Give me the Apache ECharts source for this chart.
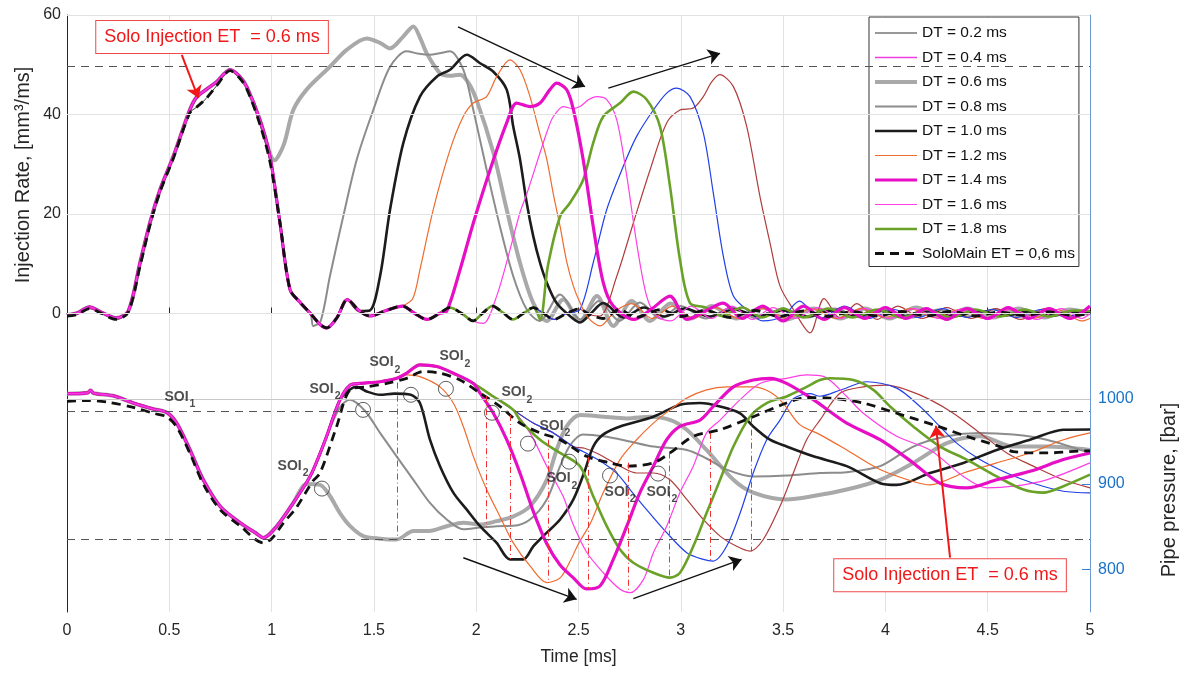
<!DOCTYPE html>
<html><head><meta charset="utf-8">
<script src="https://cdn.jsdelivr.net/npm/echarts@6/dist/echarts.min.js"></script>
<style>html,body{margin:0;padding:0;background:#fff}#c{width:1190px;height:674px}</style>
</head><body><div id="c"></div>
<script>
// ---------------- DATA ----------------
const dtNames = ['DT = 0.2 ms','DT = 0.4 ms','DT = 0.6 ms','DT = 0.8 ms','DT = 1.0 ms','DT = 1.2 ms','DT = 1.4 ms','DT = 1.6 ms','DT = 1.8 ms','DT = 2.0 ms','DT = 2.2 ms'];
const soloName = 'SoloMain ET = 0,6 ms';
const legendNames = ['DT = 0.2 ms','DT = 0.4 ms','DT = 0.6 ms','DT = 0.8 ms','DT = 1.0 ms','DT = 1.2 ms','DT = 1.4 ms','DT = 1.6 ms','DT = 1.8 ms','SoloMain ET = 0,6 ms'];
const xTicks = [0, 5, 0.5];            // min, max, step (ms)
const rateTicks = [0, 20, 40, 60];
const presTicks = [800, 900, 1000];

// injection rate [mm3/ms] - common pilot injection
const pilotRate = [[0,-0.3],[0.05,0.1],[0.11,1.3],[0.17,0.2],[0.24,-0.9],[0.3,0.5],[0.357,10.2],[0.406,18.3],[0.455,24.9],[0.52,31.6],[0.6,40.9],[0.634,43.5],[0.68,45],[0.732,46.6],[0.797,49],[0.84,47.8],[0.878,45.6],[0.943,38.9],[0.992,31.6]];
const soloPilotRate = [[0,-0.5],[0.05,-0.2],[0.11,1.0],[0.17,0],[0.24,-1.2],[0.3,0.3],[0.357,9.5],[0.406,17.8],[0.455,24.5],[0.52,31.2],[0.6,40.3],[0.634,41.5],[0.68,43.2],[0.732,45.8],[0.797,48.8],[0.84,47.5],[0.878,45.2],[0.943,38],[0.992,30.5]];
const pilotFall = [[1.041,18.2],[1.09,4.8],[1.14,2.2],[1.19,0],[1.237,-2.2],[1.27,-2.9],[1.32,-0.8],[1.37,2.8],[1.43,0.5],[1.48,-0.5],[1.56,0.6],[1.64,1.5],[1.7,0],[1.76,-1.2],[1.82,0],[1.87,1.2],[1.93,0],[1.985,-1.5],[2.03,0],[2.08,1.5],[2.13,0.2],[2.18,-1.2],[2.23,0],[2.28,1.2],[2.33,0],[2.38,-1.2],[2.44,0],[2.5,0.9],[2.56,-0.3],[2.62,-1]];
const soloRateTail = [[2.7,0.8],[2.78,-0.8],[2.9,0.8],[3.0,-0.6],[3.12,0.6],[3.24,-0.8],[3.36,0.6],[3.48,-0.6],[3.6,0.5],[3.72,-0.6],[3.84,0.4],[3.96,-0.5],[4.08,0.4],[4.2,-0.5],[4.32,0.4],[4.44,-0.5],[4.56,0.3],[4.68,-0.4],[4.8,0.3],[4.92,-0.4],[5,0]];
const rateCuts = [1.6, 1.6, 0.96, 1.2, 1.45, 1.66, 1.84, 2.0, 2.3, 2.47, 2.6];
const rate02 = [];
const rate04 = [];
const rate06 = [[1.015,30.8],[1.06,34],[1.106,40.9],[1.171,45],[1.285,49.6],[1.367,53],[1.465,55.3],[1.53,54.4],[1.579,53.3],[1.64,55.5],[1.693,57.7],[1.73,55],[1.758,52.3],[1.823,48.3],[1.87,47.8],[1.921,48],[1.96,46.5],[2.002,42.9],[2.084,32.3],[2.149,20.9],[2.214,10.2],[2.279,2.1],[2.345,-1.5],[2.426,2.8],[2.507,-1.5],[2.59,3.5],[2.67,-2.5],[2.76,2.5],[2.85,-1.5],[2.95,2],[3.05,-1],[3.15,1.5],[3.27,-1],[3.4,1.2],[3.52,-1.2],[3.65,1],[3.78,-1],[3.9,1],[4.02,-1],[4.15,1.2],[4.28,-0.8],[4.4,1],[4.53,-0.8],[4.65,1],[4.78,-0.8],[4.9,0.8],[5,0]];
const rate08 = [[1.204,-2.5],[1.24,-1.5],[1.285,7.5],[1.35,19.5],[1.416,30.9],[1.497,40.9],[1.579,49.6],[1.66,52.7],[1.72,52.2],[1.774,52],[1.82,52.3],[1.872,52.7],[1.937,49],[1.986,40.9],[2.051,28.9],[2.116,17.5],[2.181,7.5],[2.247,0.8],[2.31,-1.5],[2.41,3.8],[2.51,-1.2],[2.6,2.5],[2.7,-1.5],[2.8,2.2],[2.9,-1],[3.0,1.5],[3.12,-1],[3.25,1.2],[3.37,-1],[3.5,1],[3.62,-0.8],[3.75,1],[3.88,-0.8],[4.0,0.8],[4.13,-0.8],[4.26,0.8],[4.4,-0.6],[4.53,0.8],[4.66,-0.6],[4.8,0.6],[4.92,-0.5],[5,0]];
const rate10 = [[1.48,0.6],[1.53,7.5],[1.579,20.9],[1.644,34.3],[1.725,43.6],[1.807,47.6],[1.872,49],[1.954,52],[2.019,50.3],[2.084,48.6],[2.149,45],[2.181,37.6],[2.214,31],[2.247,22.2],[2.279,15.5],[2.312,10.2],[2.345,6.2],[2.393,2.1],[2.458,-0.5],[2.508,-1.8],[2.56,0],[2.621,2.1],[2.72,-0.8],[2.82,1.2],[2.92,-0.6],[3.02,1],[3.14,-0.6],[3.26,0.8],[3.38,-0.5],[3.5,0.6],[3.62,-0.6],[3.74,0.6],[3.86,-0.5],[3.98,0.5],[4.1,-0.5],[4.22,0.5],[4.34,-0.5],[4.46,0.5],[4.58,-0.4],[4.7,0.4],[4.82,-0.4],[4.94,0.3],[5,0]];
const rate12 = [[1.69,3],[1.725,8.8],[1.79,20.9],[1.872,32.9],[1.937,39.6],[1.986,42.3],[2.051,43.6],[2.1,47.6],[2.165,51],[2.214,49],[2.26,44],[2.312,36],[2.345,31],[2.377,24],[2.41,17.5],[2.442,10.5],[2.475,5.5],[2.507,2.2],[2.55,-1],[2.605,-2.5],[2.68,0.5],[2.76,2],[2.86,-1],[2.96,1.5],[3.06,-1],[3.17,1.2],[3.28,-1],[3.4,1],[3.52,-1],[3.64,1],[3.76,-1],[3.88,1],[4.0,-0.8],[4.12,1],[4.24,-0.8],[4.36,0.8],[4.48,-1],[4.6,0.8],[4.72,-1],[4.84,0.8],[4.96,-1.5],[5,-1]];
const rate14 = [[1.856,0.5],[1.921,8.8],[1.986,18.2],[2.068,28.9],[2.149,38.3],[2.198,42.3],[2.263,41.6],[2.312,42.3],[2.36,45],[2.393,46.3],[2.442,45],[2.475,41],[2.523,30.9],[2.572,17.5],[2.621,6.2],[2.67,1.5],[2.77,-1.2],[2.86,1],[2.947,3.5],[3.03,-1.2],[3.12,0.5],[3.207,2.1],[3.3,-1],[3.4,1.5],[3.5,-1.5],[3.6,1.5],[3.7,-1.2],[3.8,1.2],[3.9,-1],[4.0,1.2],[4.1,-1],[4.2,1],[4.3,-1.2],[4.4,1],[4.5,-1],[4.6,1.2],[4.7,-1],[4.8,1],[4.9,-1],[5,1.5]];
const rate16 = [[2.035,-2],[2.1,3.5],[2.165,12.8],[2.214,20.3],[2.247,24],[2.312,32.3],[2.35,37],[2.377,39.6],[2.426,41.6],[2.47,41.2],[2.507,41.6],[2.55,43],[2.589,43.6],[2.638,43],[2.687,38.9],[2.736,27.6],[2.784,14.2],[2.833,3.5],[2.882,-0.5],[2.95,-1.5],[3.05,1.5],[3.15,-1],[3.25,1.5],[3.35,-1.2],[3.45,1.2],[3.56,-1],[3.67,1.2],[3.78,-1],[3.9,1],[4.02,-1],[4.14,1],[4.26,-1],[4.38,1],[4.5,-1.2],[4.62,1],[4.74,-1.2],[4.86,1],[4.96,-1],[5,0]];
const rate18 = [[2.312,-1.2],[2.35,9.5],[2.41,19.5],[2.458,22.2],[2.523,26.9],[2.572,34.3],[2.621,39.6],[2.703,42.3],[2.768,44.6],[2.833,43],[2.898,37.6],[2.947,25.6],[2.996,10.8],[3.045,2.1],[3.12,1.2],[3.2,-0.5],[3.3,1.2],[3.4,-0.8],[3.5,1],[3.6,-0.8],[3.72,1],[3.84,-0.8],[3.96,0.8],[4.08,-0.8],[4.2,0.8],[4.32,-0.8],[4.44,0.8],[4.56,-0.6],[4.68,0.8],[4.8,-0.6],[4.92,0.6],[5,0.5]];
const rate20 = [[2.507,0.8],[2.572,10.2],[2.638,20.9],[2.719,29.6],[2.784,35.6],[2.866,40.9],[2.931,44.3],[2.98,45.3],[3.045,43.6],[3.11,36.3],[3.159,24.2],[3.208,11.5],[3.257,3.5],[3.33,0.5],[3.4,-1.5],[3.5,-0.5],[3.58,2.5],[3.68,-1],[3.8,1.5],[3.92,-1],[4.04,0.8],[4.16,-0.8],[4.28,1],[4.4,-0.8],[4.52,0.8],[4.64,-0.8],[4.76,0.8],[4.88,-0.6],[5,0.5]];
const rate22 = [[2.605,-0.5],[2.687,7.5],[2.768,18.2],[2.85,28.9],[2.931,38.3],[2.996,40.9],[3.061,41.3],[3.11,43.6],[3.15,46.5],[3.19,48],[3.257,45.6],[3.322,37.6],[3.387,23.5],[3.436,14.2],[3.485,5.5],[3.55,0.8],[3.632,-3.9],[3.7,3],[3.78,-1],[3.86,2],[3.96,-1.2],[4.06,1.5],[4.18,-1],[4.3,1.2],[4.42,-1],[4.54,1],[4.66,-1.2],[4.78,1],[4.9,-1],[5,0.5]];

// pipe pressure [bar]
const pilotPres = [[0,1006],[0.1,1007],[0.115,1010],[0.13,1006.5],[0.226,1003.5],[0.324,995],[0.422,988],[0.487,984],[0.536,971.5],[0.601,940],[0.666,905],[0.748,874],[0.846,854.6],[0.92,843],[0.96,837],[1.025,850.6],[1.106,878],[1.188,909]];
const envPres = [[1.237,936],[1.269,956],[1.334,998.8],[1.383,1016],[1.432,1018],[1.53,1020],[1.611,1024],[1.66,1030],[1.725,1039.8],[1.807,1037.8],[1.888,1030],[1.986,1018],[2.084,1002.7],[2.181,987],[2.279,971.5],[2.377,960],[2.475,944],[2.56,935]];
const soloPres = [[0,997],[0.1,998],[0.2,996],[0.324,990],[0.422,983],[0.487,979],[0.536,967],[0.601,936],[0.666,900],[0.748,870],[0.846,851],[0.96,831],[1.0,836],[1.06,855],[1.12,872],[1.2,903],[1.237,913],[1.318,967.6],[1.383,1010.5],[1.465,1014],[1.563,1018],[1.66,1024],[1.742,1032],[1.823,1030],[1.921,1022],[2.019,1006.6],[2.116,991],[2.214,971.5],[2.312,960],[2.41,952],[2.54,932.5],[2.65,925],[2.736,921],[2.866,924.8],[2.947,936.5],[3.061,956],[3.192,963.7],[3.354,979],[3.517,995],[3.615,1001.5],[3.729,1000.8],[3.892,995],[4.055,983],[4.234,969.6],[4.397,956],[4.56,944],[4.625,938],[4.788,936.5],[4.984,939],[5,939]];
const presCuts = [1.45, 1.45, 1.12, 1.3, 1.36, 1.64, 2.0, 2.1, 2.2, 2.5, 2.5];
const pres02 = [];
const pres04 = [];
const pres06 = [[1.171,900],[1.237,899],[1.285,886],[1.334,866],[1.383,851],[1.448,839],[1.53,836],[1.611,835],[1.693,845],[1.77,845],[1.856,850.6],[1.937,854.6],[2.019,852.6],[2.1,856.5],[2.181,862],[2.263,874],[2.345,905],[2.393,940],[2.442,967.6],[2.507,981],[2.621,979],[2.736,977],[2.85,979],[2.95,975],[3.029,963.7],[3.126,940],[3.257,905],[3.354,890],[3.517,882],[3.648,886],[3.811,893.6],[3.974,905],[4.136,924.8],[4.3,948],[4.462,956],[4.625,944],[4.788,944],[5,940]];
const pres08 = [[1.334,990],[1.383,999],[1.456,986],[1.53,960],[1.611,932.5],[1.693,905],[1.774,878],[1.856,858.5],[1.937,847],[2.019,849],[2.1,850.6],[2.181,851],[2.263,858.5],[2.345,882],[2.41,921],[2.458,945],[2.52,958],[2.621,956],[2.75,950],[2.866,944],[3.029,940],[3.126,930],[3.224,917],[3.354,909],[3.517,910],[3.68,913],[3.811,914],[3.974,921],[4.136,944],[4.3,956],[4.462,960],[4.625,958],[4.788,952],[5,936.5]];
const pres10 = [[1.383,1011],[1.416,1014],[1.465,1008.6],[1.53,1004.7],[1.6,1006],[1.68,1004.7],[1.725,995],[1.774,952],[1.823,921],[1.888,890],[1.954,870],[2.019,850.6],[2.1,831],[2.165,811.7],[2.23,811.7],[2.279,827],[2.345,843],[2.41,858.5],[2.475,882],[2.53,915],[2.572,944],[2.62,958],[2.703,967.6],[2.866,979],[2.996,993],[3.094,995],[3.192,991],[3.29,983],[3.354,967.6],[3.436,952],[3.517,944],[3.648,932.5],[3.811,921],[3.974,901],[4.055,899],[4.218,913],[4.381,924.8],[4.544,940],[4.707,952],[4.87,963.7],[5,964]];
const pres12 = [[1.66,1028],[1.725,1026],[1.823,1014],[1.888,995],[1.937,967.6],[1.986,932.5],[2.051,893.6],[2.116,862],[2.181,831],[2.263,804],[2.345,784.4],[2.41,790],[2.46,810],[2.5,830],[2.56,855],[2.621,890],[2.703,928.7],[2.784,952],[2.866,971.5],[2.947,987],[3.029,1000.8],[3.126,1010.5],[3.224,1014],[3.354,1014],[3.436,1008],[3.5,995],[3.58,970],[3.68,958],[3.811,940],[3.974,917],[4.136,903],[4.218,899],[4.381,913],[4.544,924.8],[4.707,936.5],[4.87,952],[5,960]];
const pres14 = [[2.019,1006.6],[2.084,983],[2.149,952],[2.214,913],[2.279,868],[2.345,830],[2.41,805],[2.475,790],[2.54,777],[2.605,780.5],[2.67,811.7],[2.736,850.6],[2.8,890],[2.866,921],[2.931,952],[2.996,967.6],[3.094,975],[3.159,991],[3.257,1014],[3.354,1022],[3.436,1024],[3.517,1018],[3.648,999],[3.811,971.5],[3.974,952],[4.136,924.8],[4.267,901],[4.397,895.6],[4.544,905],[4.707,915],[4.87,928.7],[5,936.5]];
const pres16 = [[2.12,998],[2.181,987],[2.263,960],[2.345,921],[2.426,885],[2.47,855],[2.54,820],[2.621,796],[2.703,776.6],[2.752,772.7],[2.817,788],[2.866,819.6],[2.931,850.6],[2.996,890],[3.061,921],[3.126,960],[3.192,975],[3.29,999],[3.387,1018],[3.517,1024],[3.615,1028],[3.7,1026],[3.811,1002.7],[3.892,983],[4.055,956],[4.218,940],[4.381,909],[4.495,895.6],[4.625,897.5],[4.788,905],[5,924.8]];
const pres18 = [[2.214,975],[2.312,952],[2.41,936.5],[2.507,921],[2.572,885.7],[2.638,850.6],[2.703,823.4],[2.768,807.8],[2.866,796],[2.947,790.3],[2.996,796],[3.061,827],[3.126,866],[3.192,905],[3.257,944],[3.338,979],[3.42,995],[3.517,1002.7],[3.615,1014],[3.68,1022],[3.729,1024],[3.843,1022],[3.941,1010.5],[4.023,991],[4.136,967.6],[4.267,944],[4.397,928.7],[4.544,909],[4.674,893.6],[4.772,890],[4.87,897.5],[5,911]];
const pres20 = [[2.54,936],[2.621,924.8],[2.69,912],[2.752,893.6],[2.833,870],[2.931,843],[3.029,819.6],[3.11,811.7],[3.159,809.7],[3.224,827],[3.29,866],[3.354,913],[3.42,952],[3.485,975],[3.55,1000],[3.632,1006],[3.68,1003],[3.778,1010],[3.909,1020],[4.055,1012.5],[4.169,991],[4.25,971.5],[4.348,948],[4.462,928.7],[4.593,913],[4.723,901],[4.87,891.6],[5,889.6]];
const pres22 = [[2.53,942],[2.6,935],[2.703,921],[2.784,913],[2.866,913],[2.947,905],[3.029,882],[3.11,858.5],[3.192,839],[3.273,827],[3.338,821.4],[3.403,835],[3.485,874],[3.55,913],[3.615,952],[3.68,975],[3.778,1006.6],[3.892,1014],[4.006,1016],[4.104,1010.5],[4.218,999],[4.332,983],[4.462,960],[4.593,936.5],[4.723,921],[4.87,905],[5,895.6]];

// annotations (data units)
const soiCircleT = [1.246,1.447,1.681,1.852,2.077,2.253,2.454,2.654,2.889];
const soiCircleP = [894.7,987,1004.7,1011.7,983.6,947.4,926.3,910,912.3];
const soiLabelT = [0.552,1.105,1.261,1.554,1.896,2.199,2.385,2.419,2.703,2.908];
const soiLabelP = [1002.3,921.6,1011.7,1042.7,1049.7,1007.6,968.4,906.4,890.6,890.6];
const soiLabelSub = ['1','2','2','2','2','2','2','2','2','2'];
const dropT = [1.614,2.051,2.165,2.353,2.548,2.743,2.944,3.143,3.346];
const dropTop = [1019,1003,981,952,932,925,937,960,979];
const dropBottom = [835,850,812,784,777,773,790,810,821];
const rateRefLine = 49.6;
const presRefLines = [984.8, 835];
const presGridLine = 1000;
const rateArrows = [[[1.911,57.6],[2.532,45.6]],[[2.646,45.3],[3.192,52.3]]];
const presArrows = [[[1.937,813.6],[2.491,764.9]],[[2.768,765.6],[3.297,811.7]]];
const calloutText = 'Solo Injection ET  = 0.6 ms';
const topCallout = [0.709, 55.6];
const topCalloutArrow = [[0.561,52],[0.642,43.3]];
const bottomCallout = [4.316, 793.2];
const bottomCalloutArrow = [[4.316,813.7],[4.247,968.4]];

// ---------------- STYLES ----------------
const styleList = [
  {color:'#333333', width:1},
  {color:'#f03ce0', width:1.3},
  {color:'#a9a9a9', width:4},
  {color:'#8c8c8c', width:2},
  {color:'#1c1c1c', width:2.6},
  {color:'#ef6a2c', width:1.2},
  {color:'#e60fc6', width:3.2},
  {color:'#ff3ee6', width:1.2},
  {color:'#6aa228', width:2.6},
  {color:'#2040e8', width:1.2},
  {color:'#b03c3c', width:1.2}
];
const drawOrder = [2, 3, 0, 10, 9, 4, 5, 7, 8, 6, 1];
const soloStyle = {color:'#111', width:2.8, type:[9,6]};
const FONT = 'Liberation Sans, Arial, Helvetica, sans-serif';
const TXT = '#262626';
const RED = '#f01818';

// ---------------- BUILD ----------------
const rateCommon = pilotRate.concat(pilotFall);
const soloRateCommon = soloPilotRate.concat(pilotFall);
const presCommon = pilotPres.concat(envPres);
const rateMains = [rate02, rate04, rate06, rate08, rate10, rate12, rate14, rate16, rate18, rate20, rate22];
const presMains = [pres02, pres04, pres06, pres08, pres10, pres12, pres14, pres16, pres18, pres20, pres22];
function branch(common, cut, main) { return common.filter(p => p[0] < cut).concat(main); }
function arrowPair(a, color, width, size) {
  return [{coord:a[0], symbol:'none', lineStyle:{color, width, type:'solid'}, itemStyle:{color}},
          {coord:a[1], symbol:'arrow', symbolSize:size, itemStyle:{color}, lineStyle:{color, width, type:'solid'}}];
}

const series = [];
const dashRef = {color:'#555', type:[8,6], width:1.2};
drawOrder.forEach((i, k) => {
  const name = dtNames[i];
  const st = styleList[i];
  const common = (i === 0) ? soloRateCommon : rateCommon;
  const zz = k === 0 ? 1 : 2;
  const rs = {
    name, type:'line', yAxisIndex:0, smooth:0.3, symbol:'none', silent:true,
    lineStyle:{color:st.color, width:st.width}, itemStyle:{color:st.color},
    data: branch(common, rateCuts[i], rateMains[i]), z:zz
  };
  const ps = {
    name, type:'line', yAxisIndex:1, smooth:0.3, symbol:'none', silent:true,
    lineStyle:{color:st.color, width:st.width}, itemStyle:{color:st.color},
    data: branch(presCommon, presCuts[i], presMains[i]), z:zz
  };
  if (k === 0) {
    rs.markLine = {silent:true, symbol:'none', animation:false, label:{show:false},
      data: rateTicks.map(v => ({yAxis:v, lineStyle:{color:'#e2e2e2', type:'solid', width:1}}))
        .concat([{yAxis:rateRefLine, lineStyle:dashRef}])};
    ps.markLine = {silent:true, symbol:'none', animation:false, label:{show:false},
      data: [{yAxis:presGridLine, lineStyle:{color:'#c8c8c8', type:'solid', width:1}}]
        .concat(presRefLines.map(v => ({yAxis:v, lineStyle:dashRef})))};
  }
  series.push(rs, ps);
});

const calloutLabel = {show:true, position:'inside', formatter:calloutText, color:RED, fontSize:18, fontFamily:FONT,
  backgroundColor:'#fff', borderColor:'#f04848', borderWidth:1, padding:[7,8,7,8]};

// solo main (dashed)
series.push({
  name: soloName, type:'line', yAxisIndex:0, smooth:0.3, symbol:'none', silent:true, z:3,
  lineStyle:soloStyle, itemStyle:{color:soloStyle.color},
  data: soloRateCommon.concat(soloRateTail),
  markLine: {silent:true, animation:false, label:{show:false},
    data: rateArrows.map(a => arrowPair(a, '#111', 1.4, 12)).concat([arrowPair(topCalloutArrow, RED, 2, 12)])},
  markPoint: {silent:true, animation:false, data:[{coord:topCallout, symbol:'rect', symbolSize:1,
    itemStyle:{color:'rgba(0,0,0,0)'}, label:calloutLabel}]}
});
series.push({
  name: soloName, type:'line', yAxisIndex:1, smooth:0.3, symbol:'none', silent:true, z:3,
  lineStyle:soloStyle, itemStyle:{color:soloStyle.color},
  data: soloPres,
  markLine: {silent:true, animation:false, symbol:'none', label:{show:false},
    data: dropT.map((t,i) => [{coord:[t, dropTop[i]], lineStyle:{color:'#f03030', width:1, type:[6,3,1,3]}}, {coord:[t, dropBottom[i]]}])}
});
// SOI circles + bottom arrows + bottom callout
series.push({
  name:'SOI2 circles', type:'scatter', yAxisIndex:1, symbol:'circle', symbolSize:15, silent:true, z:5,
  itemStyle:{color:'rgba(0,0,0,0)', borderColor:'#333', borderWidth:1},
  data: soiCircleT.map((t,i) => [t, soiCircleP[i]]),
  markLine: {silent:true, animation:false, label:{show:false},
    data: presArrows.map(a => arrowPair(a, '#111', 1.4, 12)).concat([arrowPair(bottomCalloutArrow, RED, 2, 12)])},
  markPoint: {silent:true, animation:false, data:[{coord:bottomCallout, symbol:'rect', symbolSize:1,
    itemStyle:{color:'rgba(0,0,0,0)'}, label:calloutLabel}]}
});
// SOI labels
series.push({
  name:'SOI labels', type:'scatter', yAxisIndex:1, symbolSize:0, silent:true, z:6,
  data: soiLabelT.map((t,i) => [t, soiLabelP[i]]),
  label:{show:true, position:'inside', formatter: p => '{a|SOI}{b|' + soiLabelSub[p.dataIndex] + '}',
    rich:{a:{fontSize:14, fontWeight:'bold', color:'#222', fontFamily:FONT, lineHeight:26, verticalAlign:'middle'},
          b:{fontSize:10.5, fontWeight:'bold', color:'#222', fontFamily:FONT, lineHeight:12, verticalAlign:'bottom', padding:[0,0,0,1]}}}
});

const legendData = legendNames.map((n) => {
  const i = dtNames.indexOf(n);
  const st = i >= 0 ? styleList[i] : soloStyle;
  return {name:n, lineStyle:{color:st.color, width:st.width, type: st.type || 'solid'}, itemStyle:{color:st.color, opacity:0}};
});

const option = {
  animation:false,
  textStyle:{fontFamily:FONT},
  grid:{left:67, right:100, top:15, bottom:62, containLabel:false},
  legend:{
    data:legendData, orient:'vertical', left:869, top:17, selectedMode:false,
    itemWidth:42, itemHeight:14, itemGap:6.5, itemTextGap:4,
    padding:[7,4,4,4], backgroundColor:'#fff', borderColor:'#333', borderWidth:1, borderRadius:0,
    textStyle:{fontSize:15.5, color:'#111', fontFamily:FONT, lineHeight:18}
  },
  xAxis:{
    type:'value', min:xTicks[0], max:xTicks[1], interval:xTicks[2],
    name:'Time [ms]', nameLocation:'middle', nameGap:36,
    nameTextStyle:{fontSize:17.5, color:TXT, fontFamily:FONT},
    axisLine:{show:true, lineStyle:{color:TXT, width:1}},
    axisTick:{show:true, inside:true, length:6, lineStyle:{color:TXT}},
    axisLabel:{fontSize:16, color:TXT, margin:11, fontFamily:FONT},
    splitLine:{show:true, lineStyle:{color:'#e2e2e2', width:1}}
  },
  yAxis:[
    {type:'value', position:'left', min:-60, max:60, interval:20,
     axisLine:{show:true, lineStyle:{color:TXT, width:1}},
     axisTick:{show:true, inside:true, length:8, customValues:rateTicks, lineStyle:{color:TXT}},
     axisLabel:{fontSize:16, color:TXT, margin:6, fontFamily:FONT, customValues:rateTicks,
       formatter: v => (rateTicks.indexOf(v) >= 0 ? String(v) : '')},
     splitLine:{show:false}},
    {type:'value', position:'right', min:750, max:1450, interval:50,
     axisLine:{show:true, lineStyle:{color:'#6e9bd6', width:1}},
     axisTick:{show:true, inside:true, length:8, customValues:presTicks, lineStyle:{color:'#3a7fd0'}},
     axisLabel:{fontSize:16, color:'#1a72c8', margin:8, fontFamily:FONT, customValues:presTicks,
       formatter: v => (presTicks.indexOf(v) >= 0 ? String(v) : '')},
     splitLine:{show:false}}
  ],
  graphic:[
    {type:'text', x:23, y:175, rotation:Math.PI/2, silent:true,
     style:{text:'Injection Rate, [mm³/ms]', fontSize:20, fill:TXT, fontFamily:FONT, align:'center', verticalAlign:'middle'}},
    {type:'text', x:1169, y:490, rotation:Math.PI/2, silent:true,
     style:{text:'Pipe pressure, [bar]', fontSize:20, fill:TXT, fontFamily:FONT, align:'center', verticalAlign:'middle'}}
  ],
  series
};
const chart = echarts.init(document.getElementById('c'), null, {renderer:'canvas'});
chart.setOption(option);
</script></body></html>
